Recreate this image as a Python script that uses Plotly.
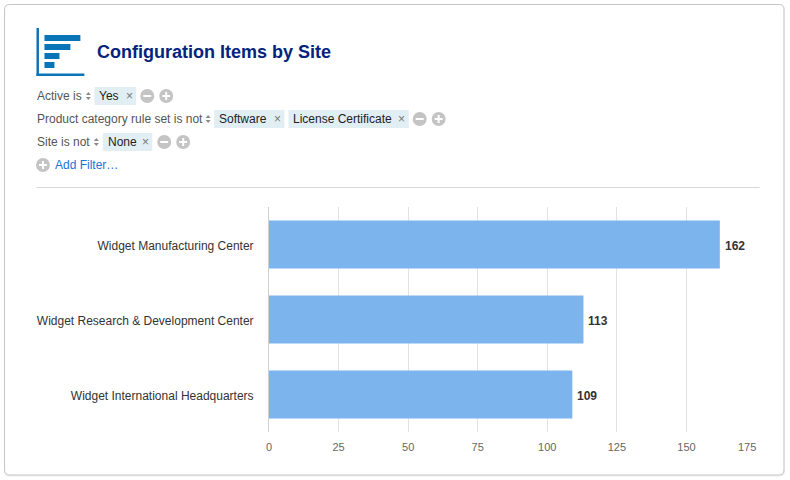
import plotly.graph_objects as go

# Chart data
sites = ["Widget Manufacturing Center", "Widget Research & Development Center", "Widget International Headquarters"]
counts = [162, 113, 109]
x_ticks = [0, 25, 50, 75, 100, 125, 150, 175]
x_tick_labels = ["0", "25", "50", "75", "100", "125", "150", ""]
last_tick_label = "175"

TITLE = "Configuration Items by Site"
FONT = "Liberation Sans, Arial, sans-serif"

W, H = 790, 480
L, R, T, B = 268, 756, 207, 432
MARGIN_L, MARGIN_R = 268.5, 790 - 756.5


def px(x):
    return (x - L - 1) / (R - L)


def py(y):
    return (B - y) / (B - T)


shapes = []
annotations = []


def rect(x0, y0, x1, y1, fill, line=None, layer="below"):
    shapes.append(dict(type="rect", xref="paper", yref="paper", x0=px(x0), x1=px(x1), y0=py(y0), y1=py(y1),
                       fillcolor=fill, line=dict(width=1 if line else 0, color=line or "rgba(0,0,0,0)"), layer=layer))


def path(points, fill):
    d = "M " + " L ".join(f"{px(x):.5f},{py(y):.5f}" for x, y in points) + " Z"
    shapes.append(dict(type="path", xref="paper", yref="paper", path=d, fillcolor=fill, line=dict(width=0), layer="above"))


def rounded(x0, y0, x1, y1, r, fill, line):
    pts = [("M", x0 + r, y0), ("L", x1 - r, y0), ("Q", x1, y0, x1, y0 + r), ("L", x1, y1 - r), ("Q", x1, y1, x1 - r, y1),
           ("L", x0 + r, y1), ("Q", x0, y1, x0, y1 - r), ("L", x0, y0 + r), ("Q", x0, y0, x0 + r, y0)]
    parts = []
    for p in pts:
        coords = p[1:]
        pairs = [f"{px(coords[i]):.5f},{py(coords[i + 1]):.5f}" for i in range(0, len(coords), 2)]
        parts.append(p[0] + " " + " ".join(pairs))
    shapes.append(dict(type="path", xref="paper", yref="paper", path=" ".join(parts) + " Z", fillcolor=fill,
                       line=dict(width=1, color=line), layer="below"))


def text(x, y, s, size=12, color="#555555", anchor="left", bold=False):
    annotations.append(dict(xref="paper", yref="paper", x=px(x), y=py(y), text=f"<b>{s}</b>" if bold else s,
                            showarrow=False, xanchor=anchor, yanchor="middle", align=anchor,
                            xshift=-2 if anchor == "left" else 0,
                            font=dict(family=FONT, size=size, color=color)))


def circle_button(cx, cy, kind):
    r = 7
    shapes.append(dict(type="circle", xref="paper", yref="paper", x0=px(cx - r), x1=px(cx + r), y0=py(cy - r), y1=py(cy + r),
                       fillcolor="#c4c4c4", line=dict(width=0), layer="above"))
    rect(cx - 4, cy - 1, cx + 4, cy + 1, "white", layer="above")
    if kind == "plus":
        rect(cx - 1, cy - 4, cx + 1, cy + 4, "white", layer="above")


def sort_arrows(cx, cy):
    path([(cx - 2.5, cy - 1), (cx + 2.5, cy - 1), (cx, cy - 4)], "#8a8a8a")
    path([(cx - 2.5, cy + 1), (cx + 2.5, cy + 1), (cx, cy + 4)], "#8a8a8a")


def chip(x0, x1, cy, label):
    rect(x0, cy - 9, x1, cy + 9, "#e1eef4")
    text(x0 + 5, cy, label, color="#222222")
    text(x1 - 7, cy, "×", size=12, color="#777777", anchor="center")


# Card with a faint drop shadow
rounded(4, 5, 785.5, 476, 5, "#eeeeee", "#eeeeee")
rounded(4, 4.5, 785, 475, 5, "white", "#c6c6c6")

# Header icon
rect(36, 28, 38.5, 76, "#0a74b8")
rect(36, 73.5, 84, 76, "#0a74b8")
rect(44, 35, 80, 41, "#0a74b8")
rect(44, 44, 70, 50, "#0a74b8")
rect(44, 53, 59, 59, "#0a74b8")
rect(44, 62, 54, 68, "#0a74b8")
text(97, 52, TITLE, size=18, color="#04237c", bold=True)

# Filter rows
text(36.5, 96, "Active is")
sort_arrows(88, 96)
chip(94, 136, 96, "Yes")
circle_button(147, 96, "minus")
circle_button(166, 96, "plus")

text(36.5, 119, "Product category rule set is not")
sort_arrows(208, 119)
chip(214, 284.5, 119, "Software")
chip(288.5, 409, 119, "License Certificate")
circle_button(420, 119, "minus")
circle_button(439, 119, "plus")

text(36.5, 142, "Site is not")
sort_arrows(96, 142)
chip(102.5, 152, 142, "None")
circle_button(164, 142, "minus")
circle_button(183, 142, "plus")

circle_button(42.5, 165, "plus")
text(55, 165, "Add Filter…", color="#1a73d9")

# Divider
rect(36, 187, 760.5, 188, "#d8d8d8")

# The last tick label is pulled inward so it stays inside the card padding
annotations.append(dict(xref="x", yref="paper", x=x_ticks[-1], y=py(447), text=last_tick_label, showarrow=False,
                        xanchor="center", yanchor="middle", xshift=-9,
                        font=dict(family=FONT, size=11, color="#666666")))

# Value labels sit just past each bar end
for site, count in zip(sites, counts):
    annotations.append(dict(xref="x", yref="y", x=count, y=site, text=f"<b>{count}</b>", showarrow=False,
                            xanchor="left", yanchor="middle", xshift=3, yshift=-1,
                            font=dict(family=FONT, size=12, color="#333333")))

fig = go.Figure(go.Bar(
    y=sites, x=counts, orientation="h",
    marker=dict(color="#7cb4ee", line=dict(width=0)),
    cliponaxis=False,
    hoverinfo="skip",
))
fig.update_layout(
    width=W, height=H, autosize=False,
    margin=dict(l=MARGIN_L, r=MARGIN_R, t=T, b=H - B, pad=0),
    paper_bgcolor="white", plot_bgcolor="rgba(0,0,0,0)",
    bargap=0.36, showlegend=False,
    shapes=shapes, annotations=annotations,
    font=dict(family=FONT),
)
fig.update_xaxes(range=[0, 175], tickvals=x_ticks, ticktext=x_tick_labels, showgrid=True, gridcolor="#e2e2e2", gridwidth=1,
                 zeroline=False, showline=False, ticks="", tickfont=dict(family=FONT, size=11, color="#666666"),
                 ticklabelstandoff=7)
fig.update_yaxes(categoryorder="array", categoryarray=sites[::-1], showgrid=False, zeroline=False,
                 showline=True, linecolor="#d0d0d0", linewidth=1, ticks="",
                 tickfont=dict(family=FONT, size=12, color="#333333"), ticklabelstandoff=12, ticklabelshift=1)
fig.write_html("out.html", config=dict(displayModeBar=False))
